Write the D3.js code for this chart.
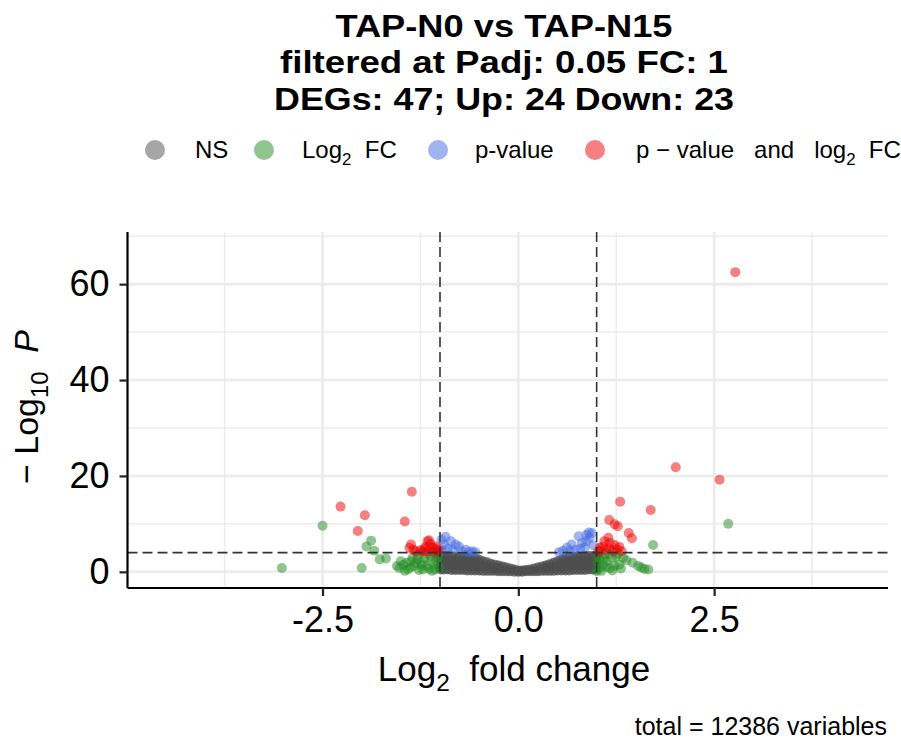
<!DOCTYPE html>
<html>
<head>
<meta charset="utf-8">
<script src="https://cdn.jsdelivr.net/npm/d3@7"></script>
<style>
  body { margin: 0; background: #fff; }
  svg { display: block; }
  text { font-family: "Liberation Sans", Arial, sans-serif; fill: #000; white-space: pre; }
  .title { font-family: "Liberation Sans Narrow", "Liberation Sans", sans-serif; font-weight: 700; }
</style>
</head>
<body>
<svg id="chart" width="901" height="742"></svg>
<script>
// ---- datos ----
const titleLines = ["TAP-N0 vs TAP-N15", "filtered at Padj: 0.05 FC: 1", "DEGs: 47; Up: 24 Down: 23"];
const captionText = "total = 12386 variables";

const xTicks = [-2.5, 0, 2.5];
const xMinorTicks = [-3.75, -1.25, 1.25, 3.75];
const yTicks = [0, 20, 40, 60];
const yMinorTicks = [10, 30, 50, 70];
const xDomain = [-4.99, 4.72];
const yDomain = [-3.375, 70.875];

const fcCutoffs = [-1, 1];
const pCutoffLine = 4.0;

const legendNames = ["NS", "Log2 FC", "p-value", "p - value and log2 FC"];
const legendColors = ["#4d4d4d", "#228b22", "#4169e1", "#ee0000"];

// [log2 fold change, -log10 P]
const nsPoints = [
  [-0.99,0.5],[-0.99,1.4],[-0.99,2.4],[-0.99,3.3],
  [-0.95,0.5],[-0.95,1.4],[-0.95,2.4],[-0.95,3.3],
  [-0.90,0.5],[-0.90,1.4],[-0.90,2.4],[-0.90,3.3],
  [-0.85,0.4],[-0.85,1.3],[-0.85,2.3],[-0.85,3.2],
  [-0.80,0.4],[-0.80,1.3],[-0.80,2.3],[-0.80,3.2],
  [-0.75,0.4],[-0.75,1.3],[-0.75,2.2],[-0.75,3.1],
  [-0.70,0.4],[-0.70,1.3],[-0.70,2.2],[-0.70,3.1],
  [-0.65,0.3],[-0.65,1.2],[-0.65,2.1],[-0.65,3.0],
  [-0.60,0.3],[-0.60,1.2],[-0.60,2.1],[-0.60,3.0],
  [-0.55,0.3],[-0.55,1.1],[-0.55,2.0],[-0.55,2.8],
  [-0.50,0.3],[-0.50,1.1],[-0.50,1.8],[-0.50,2.5],
  [-0.45,0.2],[-0.45,1.2],[-0.45,2.2],
  [-0.40,0.2],[-0.40,1.1],[-0.40,2.0],
  [-0.35,0.2],[-0.35,0.9],[-0.35,1.7],
  [-0.30,0.2],[-0.30,0.8],[-0.30,1.5],
  [-0.25,0.1],[-0.25,0.7],[-0.25,1.3],
  [-0.20,0.1],[-0.20,1.1],
  [-0.15,0.1],[-0.15,0.9],
  [-0.10,0.1],[-0.10,0.7],
  [-0.05,0.0],[-0.05,0.5],
  [0.00,0.0],[0.00,0.3],
  [0.05,0.0],[0.05,0.3],
  [0.10,0.1],[0.10,0.4],
  [0.15,0.1],[0.15,0.5],
  [0.20,0.1],[0.20,0.7],
  [0.25,0.1],[0.25,0.9],
  [0.30,0.2],[0.30,1.1],
  [0.35,0.2],[0.35,0.8],[0.35,1.3],
  [0.40,0.2],[0.40,0.9],[0.40,1.6],
  [0.45,0.2],[0.45,1.0],[0.45,1.9],
  [0.50,0.3],[0.50,1.2],[0.50,2.2],
  [0.55,0.3],[0.55,1.0],[0.55,1.8],[0.55,2.5],
  [0.60,0.3],[0.60,1.1],[0.60,2.0],[0.60,2.8],
  [0.65,0.3],[0.65,1.2],[0.65,2.1],[0.65,3.0],
  [0.70,0.4],[0.70,1.3],[0.70,2.2],[0.70,3.1],
  [0.75,0.4],[0.75,1.3],[0.75,2.3],[0.75,3.2],
  [0.80,0.4],[0.80,1.3],[0.80,2.3],[0.80,3.2],
  [0.85,0.4],[0.85,1.4],[0.85,2.4],[0.85,3.3],
  [0.90,0.5],[0.90,1.4],[0.90,2.4],[0.90,3.3],
  [0.95,0.5],[0.95,1.4],[0.95,2.4],[0.95,3.3],
  [0.99,0.5],[0.99,1.4],[0.99,2.4],[0.99,3.3]
];

const fcPoints = [
  [-3.02,0.8],[-2.50,9.6],[-2.00,0.8],[-1.88,6.5],[-1.94,5.3],[-1.84,4.4],[-1.77,2.6],[-1.69,2.8],
  [-1.50,2.2],[-1.52,0.8],[-1.41,0.5],[-1.43,1.9],[-1.33,1.2],[-1.24,1.9],[-1.22,0.5],[-1.16,1.2],
  [-1.12,2.2],[-1.07,0.5],[-1.03,1.5],[-1.29,2.6],[-1.37,2.2],[-1.12,3.2],[-1.20,2.9],[-1.03,2.9],
  [-1.07,3.9],[-1.47,1.4],[-1.55,1.2],[-1.27,0.4],[-1.35,3.0],[-1.01,0.8],[-1.10,0.2],[-1.45,0.2],
  [-1.28,3.5],[-1.18,3.8],[-1.05,2.2],[-1.38,0.9],[-1.14,0.6],[-1.31,1.8],[-1.02,3.6],[-1.23,1.3],
  [2.68,10.0],[1.72,5.6],[1.04,2.6],[1.13,2.2],[1.19,2.9],[1.25,3.2],[1.34,2.9],[1.38,2.4],
  [1.46,1.9],[1.53,1.2],[1.61,0.6],[1.17,0.8],[1.04,0.8],[1.08,1.5],[1.23,1.2],[1.00,0.1],
  [1.29,1.5],[1.57,0.9],[1.66,0.5],[1.10,3.6],[1.02,3.3],[1.15,3.8],[1.27,3.7],[1.06,0.2],
  [1.12,1.0],[1.20,0.3],[1.31,0.7],[1.09,2.8],[1.01,1.8]
];

const pPoints = [
  [-0.93,7.3],[-0.86,6.4],[-0.80,5.7],[-0.76,5.3],[-0.67,4.6],[-0.59,4.3],[-0.95,5.7],
  [-0.98,6.7],[-0.90,4.8],[-0.84,4.6],[-0.72,4.3],[-0.97,4.5],[-0.63,4.1],[-0.55,4.1],
  [0.77,7.4],[0.87,7.7],[0.91,7.1],[0.68,5.7],[0.62,5.0],[0.81,6.0],[0.94,8.1],[0.90,8.2],
  [0.87,6.4],[0.57,4.4],[0.73,4.6],[0.85,5.1],[0.96,5.5],[0.52,4.1],[0.66,4.3],[0.79,4.8]
];

const fcpPoints = [
  [2.77,62.5],[2.01,21.8],[2.57,19.2],[1.30,14.6],[1.69,12.9],[1.16,10.8],[1.23,9.9],[1.27,9.5],
  [1.41,8.1],[1.45,7.0],[1.15,7.1],[1.17,6.0],[1.23,5.6],[1.29,5.2],[1.08,5.3],[1.12,4.6],
  [1.32,4.3],[1.21,4.3],[1.04,5.0],[1.04,4.4],[1.10,6.4],[1.26,4.7],[1.02,4.2],[1.16,4.9],
  [-1.36,16.7],[-2.27,13.6],[-1.96,11.8],[-1.45,10.5],[-2.05,8.5],[-1.37,5.7],[-1.39,5.0],[-1.16,6.4],
  [-1.12,5.8],[-1.10,5.0],[-1.31,4.3],[-1.22,4.3],[-1.16,4.3],[-1.03,4.3],[-1.14,6.6],[-1.07,4.9],
  [-1.25,4.5],[-1.05,5.3],[-1.20,4.8],[-1.09,4.2],[-1.34,4.6],[-1.02,4.6],[-1.18,5.2]
];

// ---- dibujo ----
const svg = d3.select("#chart");
const panel = { left: 127.5, right: 888, top: 232, bottom: 588 };

const x = d3.scaleLinear().domain(xDomain).range([panel.left, panel.right]);
const y = d3.scaleLinear().domain(yDomain).range([panel.bottom, panel.top]);

// escribe texto con subindices / cursiva
function richText(sel, parts, size) {
  let shift = 0;
  parts.forEach(function(p) {
    const t = sel.append("tspan").text(p.t);
    let target = p.sub ? size * 0.28 : 0;
    if (target - shift !== 0) t.attr("dy", target - shift);
    shift = target;
    if (p.sub) t.style("font-size", (size * 0.7) + "px");
    if (p.it) t.style("font-style", "italic");
  });
}

// grid
const grid = svg.append("g");
grid.selectAll(".gxm").data(xMinorTicks).join("line")
  .attr("x1", d => x(d)).attr("x2", d => x(d))
  .attr("y1", panel.top).attr("y2", panel.bottom)
  .attr("stroke", "#ececec").attr("stroke-width", 1.5);
grid.selectAll(".gym").data(yMinorTicks).join("line")
  .attr("x1", panel.left).attr("x2", panel.right)
  .attr("y1", d => y(d)).attr("y2", d => y(d))
  .attr("stroke", "#ececec").attr("stroke-width", 1.5);
grid.selectAll(".gx").data(xTicks).join("line")
  .attr("x1", d => x(d)).attr("x2", d => x(d))
  .attr("y1", panel.top).attr("y2", panel.bottom)
  .attr("stroke", "#ebebeb").attr("stroke-width", 2.6);
grid.selectAll(".gy").data(yTicks).join("line")
  .attr("x1", panel.left).attr("x2", panel.right)
  .attr("y1", d => y(d)).attr("y2", d => y(d))
  .attr("stroke", "#ebebeb").attr("stroke-width", 2.6);

// puntos (los NS se solapan miles de veces en el original, por eso mas opacos)
const r = 5;
const groups = [
  { data: nsPoints, color: legendColors[0], op: 0.75 },
  { data: fcPoints, color: legendColors[1], op: 0.5 },
  { data: pPoints, color: legendColors[2], op: 0.5 },
  { data: fcpPoints, color: legendColors[3], op: 0.5 }
];
const pts = svg.append("g");
groups.forEach(function(g) {
  pts.append("g").selectAll("circle").data(g.data).join("circle")
    .attr("cx", d => x(d[0])).attr("cy", d => y(d[1])).attr("r", r)
    .attr("fill", g.color).attr("fill-opacity", g.op);
});

// lineas de corte
const cut = svg.append("g").attr("stroke", "#333").attr("stroke-width", 1.6).attr("stroke-dasharray", "10,5");
cut.selectAll(".v").data(fcCutoffs).join("line")
  .attr("x1", d => x(d)).attr("x2", d => x(d))
  .attr("y1", panel.top).attr("y2", panel.bottom);
cut.append("line")
  .attr("x1", panel.left).attr("x2", panel.right)
  .attr("y1", y(pCutoffLine)).attr("y2", y(pCutoffLine));

// ejes
const tickFont = 36;
const axisFont = 35;
const xAxis = svg.append("g").attr("transform", "translate(0," + panel.bottom + ")")
  .call(d3.axisBottom(x).tickValues(xTicks).tickFormat(d3.format(".1f")).tickSize(8).tickSizeOuter(0).tickPadding(10));
const yAxis = svg.append("g").attr("transform", "translate(" + panel.left + ",0)")
  .call(d3.axisLeft(y).tickValues(yTicks).tickFormat(d3.format("d")).tickSize(8).tickSizeOuter(0).tickPadding(10));
[xAxis, yAxis].forEach(function(a) {
  a.select(".domain").attr("stroke", "#000").attr("stroke-width", 2.2);
  a.selectAll(".tick line").attr("stroke", "#222").attr("stroke-width", 2.2);
  a.selectAll(".tick text").attr("fill", "#000").style("font-size", tickFont + "px")
    .style("font-family", "'Liberation Sans', Arial, sans-serif");
});
xAxis.selectAll(".tick text").text(d => d3.format(".1f")(d).replace("−", "-"));
// eje y: linea completa
yAxis.select(".domain").attr("d", "M0," + panel.top + "V" + panel.bottom);
xAxis.select(".domain").attr("d", "M" + panel.left + ",0H" + panel.right);

// titulos de ejes
const xt = svg.append("text").attr("x", 514).attr("y", 681).attr("text-anchor", "middle")
  .style("font-size", axisFont + "px");
richText(xt, [{ t: "Log" }, { t: "2", sub: true }, { t: "  fold change" }], axisFont);

const yt = svg.append("text").attr("transform", "translate(38,407) rotate(-90)").attr("text-anchor", "middle")
  .style("font-size", "34px");
richText(yt, [{ t: "− Log" }, { t: "10", sub: true }, { t: "  " }, { t: "P", it: true }], 34);

// titulo
const titleFont = 31;
const titleWidths = [337, 448, 460];
const titleBase = [37, 73, 110];
svg.selectAll(".title").data(titleLines).join("text")
  .attr("class", "title")
  .attr("x", 504).attr("y", (d, i) => titleBase[i])
  .attr("text-anchor", "middle")
  .attr("textLength", (d, i) => titleWidths[i]).attr("lengthAdjust", "spacingAndGlyphs")
  .style("font-size", titleFont + "px")
  .text(d => d);

// leyenda
const legFont = 24;
const legCircleX = [155, 264, 438, 595];
const legTextX = [195, 302, 475, 636];
const legParts = [
  [{ t: legendNames[0] }],
  [{ t: "Log" }, { t: "2", sub: true }, { t: "  FC" }],
  [{ t: legendNames[2] }],
  [{ t: "p − value   and   log" }, { t: "2", sub: true }, { t: "  FC" }]
];
const leg = svg.append("g");
legendColors.forEach(function(c, i) {
  leg.append("circle").attr("cx", legCircleX[i]).attr("cy", 150).attr("r", 10)
    .attr("fill", c).attr("fill-opacity", 0.5);
  const t = leg.append("text").attr("x", legTextX[i]).attr("y", 158).style("font-size", legFont + "px");
  richText(t, legParts[i], legFont);
});

// caption
svg.append("text").attr("x", 887).attr("y", 735).attr("text-anchor", "end")
  .style("font-size", "25px").text(captionText);
</script>
</body>
</html>
